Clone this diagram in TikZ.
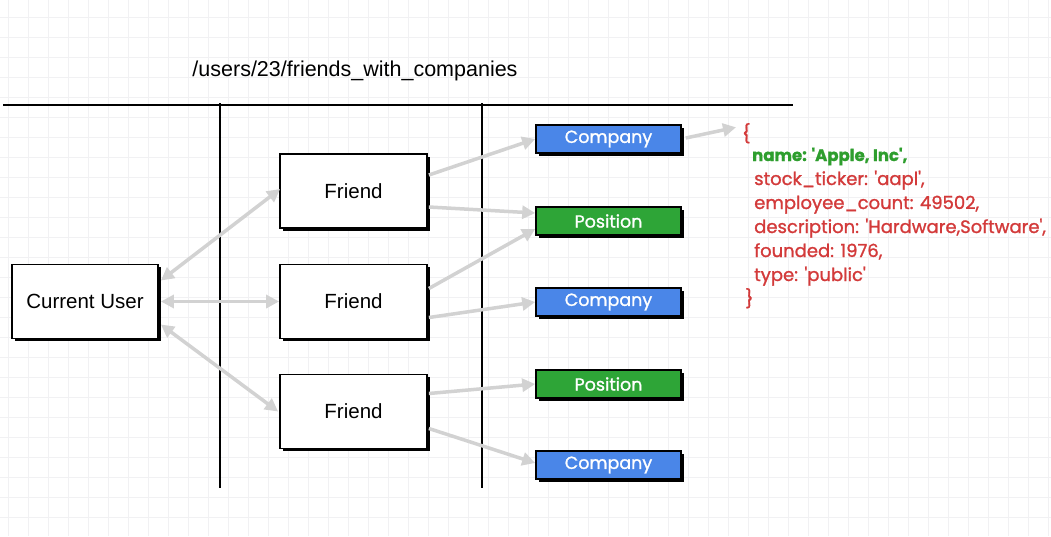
\documentclass[tikz,border=0pt]{standalone}
\usepackage{fontspec}
\setmainfont{Liberation Sans}
\newfontfamily\roundfont{Poppins}[FakeBold=1.2]
\usetikzlibrary{arrows.meta,shadows,calc}
\definecolor{gridc}{HTML}{F1F1F3}
\definecolor{arrowc}{HTML}{D2D2D2}
\definecolor{compblue}{HTML}{4A86E8}
\definecolor{posgreen}{HTML}{2EA537}
\definecolor{jsonred}{HTML}{D33A3A}
\definecolor{jsongreen}{HTML}{2E9E2E}
\tikzset{
  gridline/.style={draw=gridc, line width=1pt},
  divider/.style={draw=black, line width=1.6pt},
  whitebox/.style={draw=black, line width=1.8pt, fill=white, minimum height=74pt,
    inner sep=0pt, font=\fontsize{20.5}{23}\selectfont,
    drop shadow={shadow xshift=2.5pt, shadow yshift=-2.5pt, fill=black, opacity=1}},
  tagbox/.style={draw=black, line width=1.6pt, minimum width=145pt, minimum height=28pt,
    inner sep=0pt, text=white, font=\roundfont\fontsize{17.5}{20}\selectfont,
    drop shadow={shadow xshift=2.5pt, shadow yshift=-2.5pt, fill=black, opacity=1}},
  company/.style={tagbox, fill=compblue},
  position/.style={tagbox, fill=posgreen},
  link/.style={draw=arrowc, line width=3.5pt, -{Triangle[length=13pt,width=13pt]}},
  blink/.style={draw=arrowc, line width=3.5pt, {Triangle[length=13pt,width=13pt]}-{Triangle[length=13pt,width=13pt]}},
  jsonline/.style={anchor=base west, inner sep=0pt, text=jsonred, font=\roundfont\fontsize{18}{20}\selectfont},
}
\begin{document}
\begin{tikzpicture}[x=1pt,y=-1pt]
\useasboundingbox (0,0) rectangle (1051,536);
\fill[white] (0,0) rectangle (1051,536);
% grid
\foreach \gx in {8,28,...,1048} \draw[gridline] (\gx,0) -- (\gx,536);
\foreach \gy in {17,37,...,536} \draw[gridline] (0,\gy) -- (1051,\gy);
% title and dividers
\node[font=\fontsize{21.5}{24}\selectfont] (title) at (355,71) {/users/23/friends\_with\_companies};
\draw[divider] (3,105) -- (793,105);
\draw[divider] (220,103) -- (220,488);
\draw[divider] (482,103) -- (482,488);
% boxes
\node[whitebox, minimum width=146pt] (cu) at (85,301.5) {Current User};
\node[whitebox, minimum width=147pt] (f1) at (353.5,191) {Friend};
\node[whitebox, minimum width=147pt] (f2) at (353.5,301.5) {Friend};
\node[whitebox, minimum width=147pt] (f3) at (353.5,411.5) {Friend};
\node[company] (c1) at (608.5,139) {Company};
\node[position] (p1) at (608.5,221) {Position};
\node[company] (c2) at (608.5,302) {Company};
\node[position] (p2) at (608.5,384) {Position};
\node[company] (c3) at (608.5,465) {Company};
% json
\node[jsonline] (ob) at (742,140) {\{};
\node[jsonline, text=jsongreen, font=\roundfont\bfseries\fontsize{16.5}{20}\selectfont] (j1) at (752,161) {name: 'Apple, Inc',};
\node[jsonline] (j2) at (754,185) {stock\_ticker: 'aapl',};
\node[jsonline] (j3) at (754,209) {employee\_count: 49502,};
\node[jsonline] (j4) at (754,233) {description: 'Hardware,Software',};
\node[jsonline] (j5) at (754,257) {founded: 1976,};
\node[jsonline] (j6) at (754,281) {type: 'public'};
\node[jsonline] (cb) at (745,305) {\}};
% connectors
\draw[blink] ($(cu.east)+(2,-21)$) -- ($(f1.west)+(1,-2)$);
\draw[blink] ($(cu.east)+(2,0)$) -- (f2.west);
\draw[blink] ($(cu.east)+(2,23)$) -- ($(f3.west)+(-1,0)$);
\draw[link] ($(f1.east)+(1,-16)$) -- (c1.west);
\draw[link] ($(f1.east)+(1,16)$) -- ($(p1.west)+(0,-8)$);
\draw[link] ($(f2.east)+(1,-13)$) -- ($(p1.west)+(0,8)$);
\draw[link] ($(f2.east)+(1,16)$) -- (c2.west);
\draw[link] ($(f3.east)+(1,-18)$) -- (p2.west);
\draw[link] ($(f3.east)+(1,17)$) -- ($(c3.west)+(0,-2)$);
\draw[link] ($(c1.east)+(4,-1)$) -- ($(ob.west)+(-6,-6)$);
\end{tikzpicture}
\end{document}
